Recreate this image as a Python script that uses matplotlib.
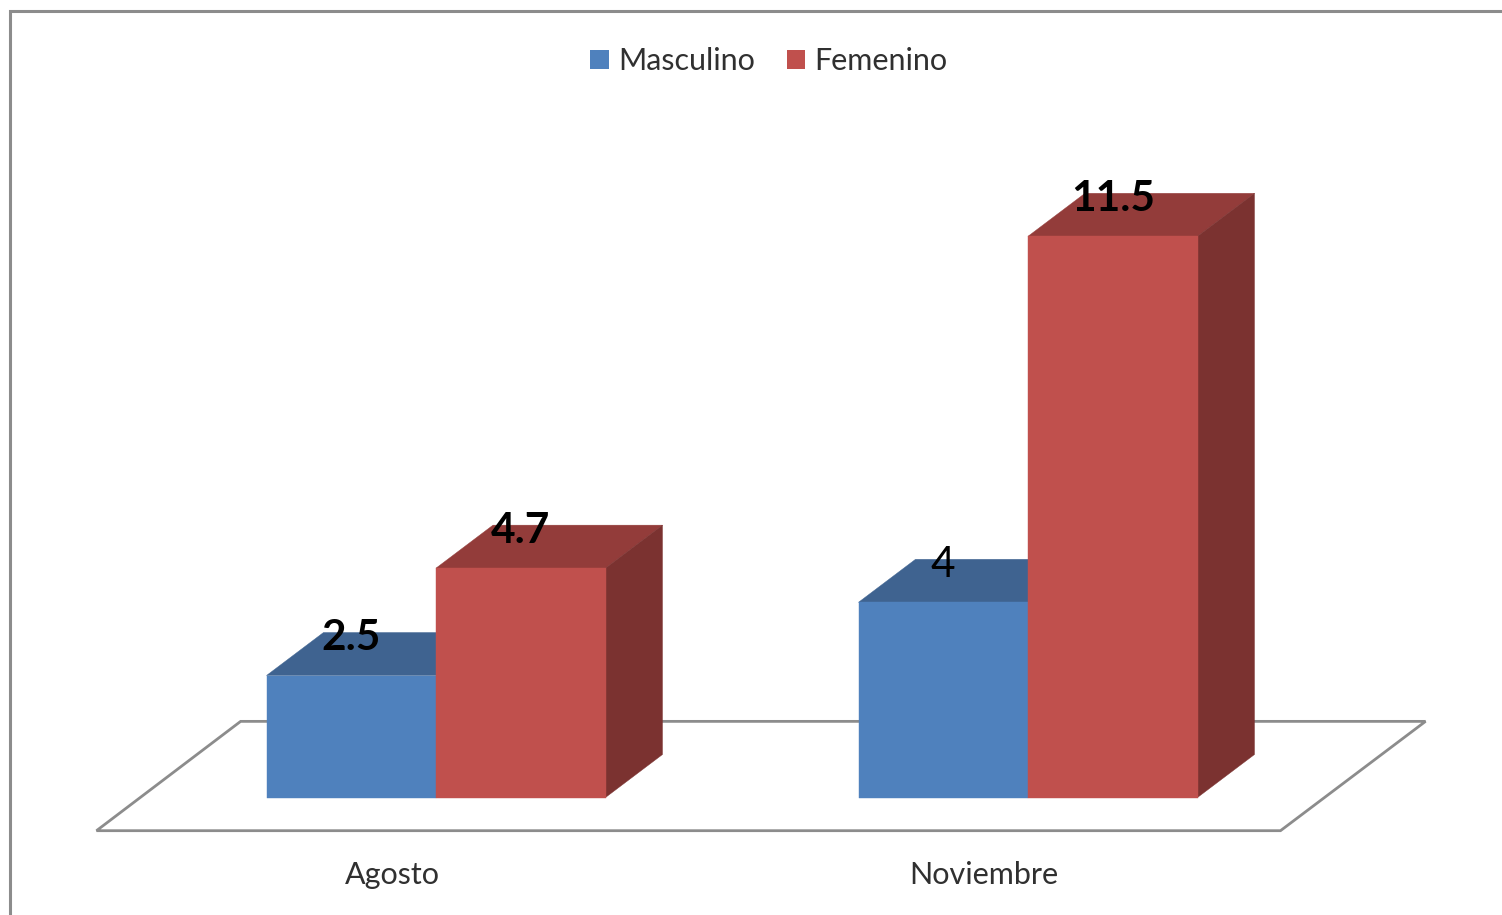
import matplotlib
matplotlib.use('Agg')
import matplotlib.pyplot as plt
from matplotlib.lines import Line2D
from matplotlib.patches import Patch, Polygon

plt.rcParams['font.family'] = ['Lato', 'DejaVu Sans']

categories = ['Agosto', 'Noviembre']
masculino = [2.5, 4]
femenino = [4.7, 11.5]
masculino_labels = ['2.5', '4']
femenino_labels = ['4.7', '11.5']

W, H = 1502, 915
BLUE, BLUE_TOP = '#4f81bd', '#3f6390'
RED, RED_TOP, RED_SIDE = '#c0504d', '#933c3a', '#7b3230'
GREY = '#8c8c8c'

# one category step is 592 px, one value unit is 48.8 px
STEP, UNIT = 592.0, 48.8
X0, Y0 = 436.0, 797.5
BAR_W = 169.5 / STEP
DX, DY = 57 / STEP, 43 / UNIT


def draw_box(ax, left, value, front, top, side=None):
    ax.bar(left, value, BAR_W, align='edge', color=front, edgecolor=front, linewidth=0.3, zorder=3)
    right = left + BAR_W
    ax.add_patch(Polygon([(left, value), (right, value), (right + DX, value + DY), (left + DX, value + DY)],
                         facecolor=top, edgecolor=top, linewidth=0.3, zorder=2))
    if side:
        ax.add_patch(Polygon([(right, 0), (right + DX, DY), (right + DX, value + DY), (right, value)],
                             facecolor=side, edgecolor=side, linewidth=0.3, zorder=2))


fig = plt.figure(figsize=(W / 100, H / 100), dpi=100, facecolor='white')
ax = fig.add_axes([0, 0, 1, 1])
ax.set_xlim((0 - X0) / STEP, (W - X0) / STEP)
ax.set_ylim((Y0 - H) / UNIT, Y0 / UNIT)
ax.axis('off')

# floor
floor = [(-0.5735, -0.68), (-0.330, 1.56), (1.6715, 1.56), (1.4265, -0.68)]
ax.add_patch(Polygon(floor, closed=True, facecolor='white', edgecolor=GREY, linewidth=2.0, zorder=1))

for i, cat in enumerate(categories):
    draw_box(ax, i - BAR_W, masculino[i], BLUE, BLUE_TOP)
    draw_box(ax, i, femenino[i], RED, RED_TOP, RED_SIDE)

    ax.text(i - BAR_W / 2, masculino[i] + 0.76, masculino_labels[i], ha='center', va='center',
            fontsize=30.5, color='black', zorder=5,
            fontweight='normal' if masculino_labels[i] == '4' else 'bold')
    ax.text(i + BAR_W / 2, femenino[i] + 0.76, femenino_labels[i], ha='center', va='center',
            fontsize=30.5, color='black', fontweight='bold', zorder=5)
    ax.text(i - 44 / STEP, (Y0 - 875) / UNIT, cat, ha='center', va='center',
            fontsize=22, color='#303030')

# chart border, only top and left are inside the picture
fig.add_artist(Line2D([10 / W, 10 / W, 1], [0, 1 - 11 / H, 1 - 11 / H], color=GREY, linewidth=2.2,
                      solid_joinstyle='miter'))

handles = [Patch(facecolor=BLUE, edgecolor='none', label='Masculino'),
           Patch(facecolor=RED, edgecolor='none', label='Femenino')]
fig.legend(handles=handles, loc='center', bbox_to_anchor=(769 / W, 1 - 61 / H), ncol=2, frameon=False,
           fontsize=22, handlelength=0.6, handleheight=0.6, handletextpad=0.3, columnspacing=1.05,
           labelcolor='#303030')

fig.savefig('out.png', dpi=100)
